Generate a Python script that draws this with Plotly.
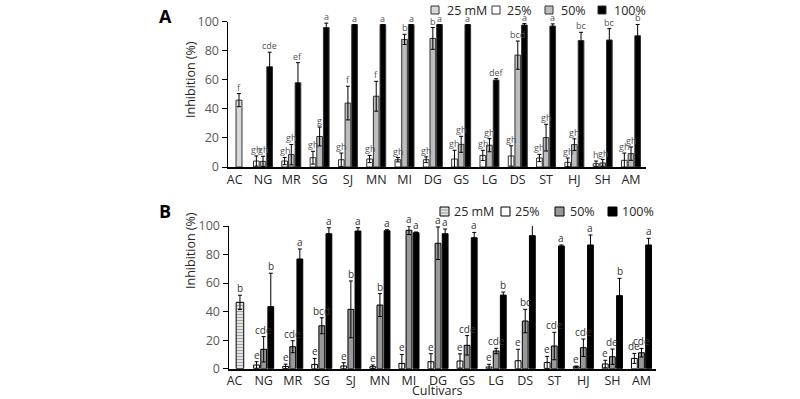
import plotly.graph_objects as go

# ---------------- data ----------------
categories = ["AC", "NG", "MR", "SG", "SJ", "MN", "MI", "DG", "GS", "LG", "DS", "ST", "HJ", "SH", "AM"]
cultivars = categories[1:]
series_names = ["25 mM", "25%", "50%", "100%"]

# Panel A
a_ac = [46.0]
a_ac_err = [4.5]
a_ac_lab = ["f"]
a_25 = [4.1, 4.1, 6.4, 5.0, 5.5, 5.0, 5.0, 5.5, 8.0, 7.6, 6.2, 3.2, 2.3, 4.6]
a_25_err = [3.5, 2.5, 4.4, 4.6, 2.5, 1.5, 2.0, 6.0, 3.5, 7.0, 2.5, 3.0, 1.8, 5.0]
a_25_lab = ["gh", "gh", "gh", "gh", "gh", "gh", "gh", "gh", "gh", "gh", "gh", "gh", "h", "gh"]
a_50 = [3.9, 8.5, 21.0, 44.0, 48.7, 87.8, 88.5, 15.6, 15.0, 77.0, 20.2, 15.4, 2.8, 9.2]
a_50_err = [3.5, 7.0, 6.5, 11.6, 10.3, 3.5, 7.5, 5.5, 4.5, 9.7, 9.2, 4.0, 2.3, 4.6]
a_50_lab = ["gh", "gh", "g", "f", "f", "b", "b", "gh", "gh", "bcd", "gh", "gh", "gh", "gh"]
a_100 = [69.0, 58.0, 96.0, 98.0, 98.0, 98.0, 98.0, 98.0, 59.8, 97.7, 97.0, 87.0, 87.4, 90.3]
a_100_err = [10.0, 13.8, 3.0, 0.0, 0.0, 0.0, 0.0, 0.0, 1.0, 1.0, 1.5, 5.7, 7.8, 7.8]
a_100_lab = ["cde", "ef", "a", "a", "a", "a", "a", "a", "def", "a", "a", "bc", "bc", "b"]

# Panel B
b_ac = [46.5]
b_ac_err = [5.0]
b_ac_lab = ["b"]
b_25 = [2.6, 1.6, 3.0, 1.9, 1.4, 3.7, 4.9, 5.4, 1.2, 5.6, 4.4, 1.4, 3.3, 7.2]
b_25_err = [2.3, 1.6, 4.2, 2.3, 1.2, 6.3, 5.6, 5.0, 1.9, 8.0, 4.2, 0.5, 2.6, 3.5]
b_25_lab = ["e", "e", "e", "e", "e", "e", "e", "e", "e", "e", "e", "e", "e", "de"]
b_50 = [13.6, 15.4, 30.1, 41.6, 44.6, 97.0, 87.9, 16.4, 12.4, 33.4, 15.9, 14.7, 8.4, 11.2]
b_50_err = [8.9, 4.2, 5.6, 19.9, 8.0, 3.0, 11.4, 6.8, 1.9, 8.2, 9.6, 6.1, 5.4, 3.0]
b_50_lab = ["cde", "cde", "bcd", "b", "b", "a", "a", "cde", "cde", "bc", "cde", "cde", "de", "cde"]
b_100 = [43.5, 76.9, 94.6, 96.5, 96.7, 95.3, 94.6, 91.8, 51.6, 93.2, 86.0, 86.7, 51.2, 86.7]
b_100_err = [23.4, 7.0, 4.2, 2.3, 0.7, 0.5, 3.3, 3.7, 2.1, 7.5, 0.7, 7.0, 12.1, 4.7]
b_100_lab = ["b", "a", "a", "a", "a", "a", "a", "a", "b", "a", "a", "a", "b", "a"]

y_ticks = [0, 20, 40, 60, 80, 100]

# ---------------- layout geometry (pixels in 800x399 canvas) ----------------
W, H = 800, 399
FONT = "Open Sans"
TICK_COLOR = "#595959"
TEXT_COLOR = "#262626"


def px(x):
    return x / W


def py(y):
    return 1 - y / H


panels = [
    dict(key="A", xa="x", ya="y", xdom=(227.5, 646), ydom=(21.7, 167), xrange=(-0.254, 14.53),
         ac=a_ac, ac_err=a_ac_err, ac_lab=a_ac_lab,
         s=[(a_25, a_25_err, a_25_lab), (a_50, a_50_err, a_50_lab), (a_100, a_100_err, a_100_lab)],
         colors=["#dadada", "#ffffff", "#bdbdbd", "#000000"], line="#333333",
         centers=[-0.235, 0.0, 0.235], bw=0.2, ac_center=0.152, ac_w=0.21,
         lab_size=9, lab_color="#555555", patterns=False),
    dict(key="B", xa="x2", ya="y2", xdom=(228.5, 656), ydom=(226, 368.7), xrange=(-0.21, 14.5),
         ac=b_ac, ac_err=b_ac_err, ac_lab=b_ac_lab,
         s=[(b_25, b_25_err, b_25_lab), (b_50, b_50_err, b_50_lab), (b_100, b_100_err, b_100_lab)],
         colors=["#e3e3e3", "#ffffff", "#999999", "#000000"], line="#000000",
         centers=[-0.245, 0.0, 0.245], bw=0.2, ac_center=0.184, ac_w=0.26,
         lab_size=10, lab_color="#333333", patterns=True),
]

fig = go.Figure()
annotations = []
shapes = []

for p in panels:
    x0, x1 = p["xdom"]
    ppu = (x1 - x0) / (p["xrange"][1] - p["xrange"][0])
    err_style = dict(type="data", visible=True, color="#000000", thickness=1, width=2)

    # 25 mM (AC only)
    marker = dict(color=p["colors"][0], line=dict(color=p["line"], width=1))
    if p["patterns"]:
        marker["pattern"] = dict(shape="-", fgcolor="#a0a0a0", bgcolor=p["colors"][0], size=3, solidity=0.3)
    fig.add_trace(go.Bar(x=categories[:1], y=p["ac"], name=series_names[0], xaxis=p["xa"], yaxis=p["ya"],
                         offset=p["ac_center"] - p["ac_w"] / 2, width=p["ac_w"], marker=marker,
                         error_y=dict(array=p["ac_err"], **err_style), cliponaxis=False, showlegend=False))
    for xv, yv, ev, lv in zip(categories[:1], p["ac"], p["ac_err"], p["ac_lab"]):
        annotations.append(dict(x=xv, y=yv + ev, xref=p["xa"], yref=p["ya"], text=lv, showarrow=False,
                                yanchor="bottom", xanchor="center", xshift=p["ac_center"] * ppu, yshift=-2,
                                font=dict(family=FONT, size=p["lab_size"], color=p["lab_color"])))

    for i, (vals, errs, labs) in enumerate(p["s"]):
        c = p["centers"][i]
        marker = dict(color=p["colors"][i + 1], line=dict(color=p["line"], width=1))
        fig.add_trace(go.Bar(x=cultivars, y=vals, name=series_names[i + 1], xaxis=p["xa"], yaxis=p["ya"],
                             offset=c - p["bw"] / 2, width=p["bw"], marker=marker,
                             error_y=dict(array=errs, **err_style), cliponaxis=False, showlegend=False))
        for xv, yv, ev, lv in zip(cultivars, vals, errs, labs):
            annotations.append(dict(x=xv, y=yv + ev, xref=p["xa"], yref=p["ya"], text=lv, showarrow=False,
                                    yanchor="bottom", xanchor="center", xshift=c * ppu, yshift=-2,
                                    font=dict(family=FONT, size=p["lab_size"], color=p["lab_color"])))

# ---------------- custom legends ----------------
legend_specs = [
    dict(sx=[431, 492, 545, 598], sy=6, ss=8, tx=[445, 505, 559, 612], ty=10,
         colors=panels[0]["colors"], line=panels[0]["line"], hatch=False),
    dict(sx=[440, 501, 555, 608], sy=207, ss=9, tx=[452, 513, 568, 620], ty=211.5,
         colors=panels[1]["colors"], line=panels[1]["line"], hatch=True),
]
for lg in legend_specs:
    for k in range(4):
        sx, sy, ss = lg["sx"][k], lg["sy"], lg["ss"]
        shapes.append(dict(type="rect", xref="paper", yref="paper", x0=px(sx), x1=px(sx + ss),
                           y0=py(sy + ss), y1=py(sy), fillcolor=lg["colors"][k],
                           line=dict(color=lg["line"], width=1)))
        if lg["hatch"] and k == 0:
            for hy in (sy + 3, sy + 6):
                shapes.append(dict(type="line", xref="paper", yref="paper", x0=px(sx + 1), x1=px(sx + ss - 1),
                                   y0=py(hy), y1=py(hy), line=dict(color="#9a9a9a", width=1)))
        annotations.append(dict(x=px(lg["tx"][k]), y=py(lg["ty"]), xref="paper", yref="paper",
                                text=series_names[k], showarrow=False, xanchor="left", yanchor="middle",
                                font=dict(family=FONT, size=12.5, color=TEXT_COLOR)))

# panel letters, y titles, x title
common = dict(xref="paper", yref="paper", showarrow=False, xanchor="center", yanchor="middle")
annotations += [
    dict(x=px(165), y=py(16), text="<b>A</b>", font=dict(family=FONT, size=18, color="#000000"), **common),
    dict(x=px(165), y=py(211), text="<b>B</b>", font=dict(family=FONT, size=18, color="#000000"), **common),
    dict(x=px(190), y=py(80), text="Inhibition (%)", textangle=-90,
         font=dict(family=FONT, size=12.5, color=TEXT_COLOR), **common),
    dict(x=px(190), y=py(251), text="Inhibition (%)", textangle=-90,
         font=dict(family=FONT, size=12.5, color=TEXT_COLOR), **common),
    dict(x=px(437), y=py(390), text="Cultivars", font=dict(family=FONT, size=12.5, color=TEXT_COLOR), **common),
]

layout = dict(
    template="none",
    width=W, height=H, margin=dict(l=0, r=0, t=0, b=0),
    paper_bgcolor="white", plot_bgcolor="white",
    barmode="overlay", showlegend=False,
    font=dict(family=FONT, color=TEXT_COLOR),
    annotations=annotations, shapes=shapes,
)
for p in panels:
    xk = "xaxis" if p["xa"] == "x" else "xaxis2"
    yk = "yaxis" if p["ya"] == "y" else "yaxis2"
    layout[xk] = dict(domain=[px(p["xdom"][0]), px(p["xdom"][1])], anchor=p["ya"], type="category",
                      categoryorder="array", categoryarray=categories, range=list(p["xrange"]),
                      showline=True, linecolor="#000000", linewidth=1.5, ticks="", showgrid=False,
                      zeroline=False, tickfont=dict(family=FONT, size=12.5, color=TEXT_COLOR), ticklen=0)
    layout[yk] = dict(domain=[py(p["ydom"][1]), py(p["ydom"][0])], anchor=p["xa"], range=[0, 100],
                      tickvals=y_ticks, showline=True, linecolor="#000000", linewidth=1, ticks="outside",
                      ticklen=5, tickcolor="#000000", showgrid=False, zeroline=False,
                      tickfont=dict(family=FONT, size=12.5, color=TICK_COLOR))
fig.update_layout(**layout)

fig.write_html("out.html", config={"displayModeBar": False},
               post_script="document.body.style.margin='0';document.body.style.overflow='hidden';")
